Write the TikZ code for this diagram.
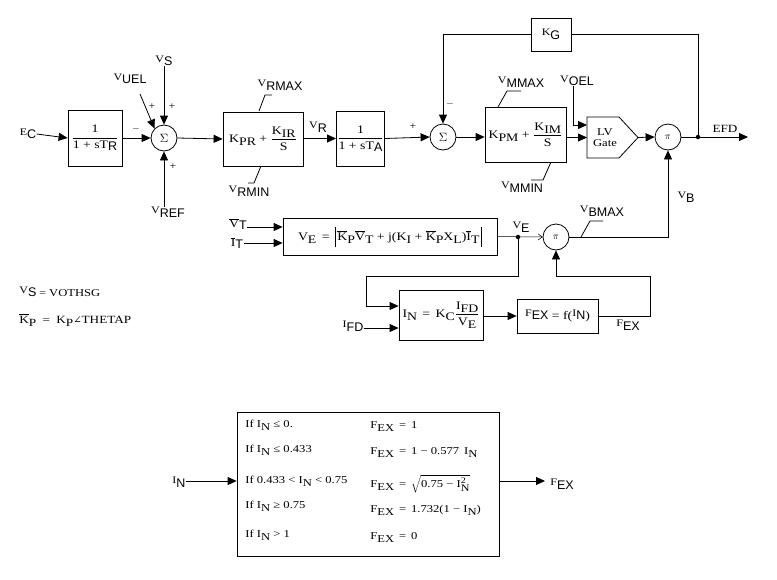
\documentclass[tikz,border=0pt]{standalone}
\usepackage{fontspec}
\setmainfont{Liberation Serif}[FakeStretch=1.2]
\setsansfont{Liberation Sans}
\newfontfamily\dvfont{DejaVu Serif}
\usetikzlibrary{arrows.meta,calc}
\newcommand\sig[2]{{\fontsize{10}{10}\selectfont\raisebox{3.5pt}{#1}}{\sffamily\fontsize{12.5}{12.5}\selectfont #2}}
\newcommand\dn[1]{\raisebox{-3pt}{#1}}
\newcommand\fr[2]{$\displaystyle\frac{\hbox{#1}}{\hbox{#2}}$}
\newcommand\ovl[1]{$\overline{\hbox{#1}}$}
\newcommand\sfdn[1]{\raisebox{-2pt}{\sffamily\fontsize{12.5}{12.5}\selectfont #1}}
\newcommand\absbar{\rule[-6pt]{0.6pt}{20pt}}
\tikzset{
  blk/.style={draw, inner sep=1pt, align=center, font=\fontsize{11.5}{12}\selectfont},
  sumc/.style={draw, circle, minimum size=26pt, inner sep=0pt, font=\fontsize{10}{10}\selectfont},
  arr/.style={-{Triangle[length=9pt,width=8pt]}},
  oarr/.style={-{Straight Barb[length=4pt,width=6pt]}},
  lbl/.style={inner sep=0pt},
  sgn/.style={inner sep=0pt, font=\fontsize{10}{10}\selectfont},
  dotn/.style={circle, fill, inner sep=0pt, minimum size=4.5pt},
  row/.style={inner sep=0pt, anchor=west, font=\fontsize{10.5}{11}\selectfont},
}
\begin{document}
\begin{tikzpicture}[x=1pt,y=-1pt,line width=0.8pt]
\useasboundingbox (0,0) rectangle (777,579);
% blocks
\node[blk, minimum width=54pt, minimum height=56pt] (b1) at (95,138) {\fr{1}{1 + sT\sfdn{R}}};
\node[sumc, font=\fontsize{12}{12}\selectfont] (s1) at (164,138) {$\Sigma$};
\node[blk, minimum width=80pt, minimum height=54pt] (b2) at (263,139) {K\dn{PR} + \fr{K\dn{IR}}{S}};
\node[blk, minimum width=47pt, minimum height=55pt] (b3) at (360.5,138.5) {\fr{1}{1 + sT\sfdn{A}}};
\node[sumc, font=\fontsize{12}{12}\selectfont] (s2) at (443,137) {$\Sigma$};
\node[blk, minimum width=40pt, minimum height=33pt] (kg) at (551,34.5) {\sig{K}{G}};
\node[blk, minimum width=81pt, minimum height=55pt] (b4) at (525.5,134.5) {K\dn{PM} + \fr{K\dn{IM}}{S}};
\draw (587,117) -- (619,117) -- (638,137.5) -- (619,158) -- (587,158) -- cycle;
\node[lbl, align=center, font=\fontsize{10.5}{10}\selectfont] (gate) at (605,137.5) {LV\\[1pt]Gate};
\coordinate (gateW) at (587,137.5);
\coordinate (gateE) at (638,137.5);
\node[sumc] (p1) at (668,137) {$\pi$};
\node[sumc] (p2) at (556,237) {$\pi$};
\node[blk, minimum width=214pt, minimum height=37pt] (ve) at (390,236.5)
  {V\dn{E} \,=\, \absbar\,\ovl{K}\dn{P}\ovl{V}\dn{T} + j(K\dn{I} + \ovl{K}\dn{P}X\dn{L})\ovl{I}\dn{T}\,\absbar};
\node[blk, minimum width=84pt, minimum height=50pt] (in) at (441,315) {I\dn{N} \,=\, K\dn{C}\fr{I\dn{FD}}{V\dn{E}}};
\node[blk, minimum width=81pt, minimum height=34pt] (fex) at (557.5,316) {\sig{F}{EX} = f(\sig{I}{N})};
% labels
\node[lbl] (ec) at (28,134) {\sig{E}{C}};
\node[lbl] (vs) at (164,61) {\sig{V}{S}};
\node[lbl] (vuel) at (130,79) {\sig{V}{UEL}};
\node[lbl] (vref) at (168,212) {\sig{V}{REF}};
\node[lbl] at (280,85) {\sig{V}{RMAX}};
\node[lbl] at (249,191) {\sig{V}{RMIN}};
\node[lbl] at (318,127) {\sig{V}{R}};
\node[lbl] at (521,82) {\sig{V}{MMAX}};
\node[lbl] (voel) at (577,81) {\sig{V}{OEL}};
\node[lbl] at (522,187) {\sig{V}{MMIN}};
\node[lbl, font=\fontsize{11}{11}\selectfont] at (725,129) {EFD};
\node[lbl] at (686,197) {\sig{V}{B}};
\node[lbl] at (602,211) {\sig{V}{BMAX}};
\node[lbl] at (521,227) {\sig{V}{E}};
\node[lbl] at (628,325) {\sig{F}{EX}};
\node[lbl, font=\fontsize{11.5}{12}\selectfont] (vt) at (238,224) {\ovl{V}\sfdn{T}};
\node[lbl, font=\fontsize{11.5}{12}\selectfont] (it) at (237,243) {\ovl{I}\sfdn{T}};
\node[lbl] (ifd) at (353,326) {\sig{I}{FD}};
% signs
\node[sgn] at (136,129) {$-$};
\node[sgn] at (152,107) {+};
\node[sgn] at (172,107) {+};
\node[sgn] at (173,167) {+};
\node[sgn] at (413,127) {+};
\node[sgn] at (450,104) {$-$};
% connectors main row
\draw[arr] (ec.east) -- (b1.west);
\draw[arr] (b1.east) -- (s1.west);
\draw[arr] (vs.south) -- (s1.north);
\coordinate (vuelE) at (140,94);
\draw[arr] (vuelE) -- (s1.north west);
\draw[arr] (vref.north -| s1.south) -- (s1.south);
\draw[arr] (s1.east) -- (b2.west);
\draw[arr] (b2.east |- b3.west) -- (b3.west);
\draw[arr] (b3.east) -- (s2.west);
\draw[arr] (kg.west) -| (s2.north);
\coordinate (efdDot) at (698,137);
\draw (kg.east) -| (efdDot);
\draw[arr] (s2.east) -- (b4.west |- s2.east);
\draw[arr] (b4.east |- gateW) -- (gateW);
\draw[arr] (voel.south -| 573,0) |- ($(gateW)+(0,-12.5)$);
\draw[arr] (gateE) -- (p1.west);
\coordinate (efdEnd) at (748,137);
\draw[arr] (p1.east) -- (efdEnd);
\node[dotn] at (efdDot) {};
\draw[arr] (p2.east) -| (p1.south);
% limit marks
\draw (259,111) -- (265,95) -- (272,95);
\draw (261,166) -- (254,183) -- (248,183);
\draw (498,107) -- (507,91) -- (521,91);
\draw (551,162) -- (543,180) -- (531,180);
\draw (581,237) -- (590,221) -- (603,221);
% lower part
\draw[arr] (vt.east |- 0,227) -- (ve.west |- 0,227);
\draw[arr] (it.east |- 0,243) -- (ve.west |- 0,243);
\coordinate (veDot) at (518,237);
\draw[oarr, line width=0.5pt] (ve.east) -- (p2.west);
\node[dotn] at (veDot) {};
\coordinate (fbA) at (366,276);
\draw[arr] (veDot) |- (fbA) |- (in.west |- 0,306);
\draw[arr] (ifd.east |- 0,328) -- (in.west |- 0,328);
\draw[arr] (in.east |- fex.west) -- (fex.west);
\coordinate (fexR) at (650,316);
\draw[arr] (fex.east) -- (fexR) |- (556,276) -- (p2.south);
% notes
\node[lbl, anchor=west] at (19,292) {\sig{V}{S} = {\fontsize{10.5}{11}\selectfont VOTHSG}};
\node[lbl, anchor=west, font=\fontsize{11}{12}\selectfont] at (19,320) {\ovl{K}\dn{P} \;=\; K\dn{P}{\dvfont\fontsize{10}{10}\selectfont ∠}THETAP};
% table
\node[draw, minimum width=262pt, minimum height=144pt, inner sep=0pt] (tab) at (368,484) {};
\node[lbl] (inl) at (179,482) {\sig{I}{N}};
\draw[arr] (inl.east |- 0,481) -- (tab.west |- 0,481);
\coordinate (tabOut) at (545,481);
\draw[arr] (tab.east |- 0,481) -- (tabOut);
\node[lbl] at (562,484) {\sig{F}{EX}};
\node[row] at (245,425) {If I\dn{N} ≤ 0.};
\node[row] at (245,450) {If I\dn{N} ≤ 0.433};
\node[row] at (245,481) {If 0.433 < I\dn{N} < 0.75};
\node[row] at (245,506) {If I\dn{N} ≥ 0.75};
\node[row] at (245,535) {If I\dn{N} > 1};
\node[row] at (370,427) {F\dn{EX} \,=\, 1};
\node[row] at (370,453) {F\dn{EX} \,=\, 1 − 0.577\, I\dn{N}};
\node[row] at (370,484) {F\dn{EX} \,=\, $\sqrt{\hbox{0.75 − I}^{\hbox{\fontsize{8.5}{8}\selectfont 2}}_{\hbox{\fontsize{10}{9}\selectfont N}}}$};
\node[row] at (370,510) {F\dn{EX} \,=\, 1.732(1 − I\dn{N})};
\node[row] at (370,538) {F\dn{EX} \,=\, 0};
\end{tikzpicture}
\end{document}
